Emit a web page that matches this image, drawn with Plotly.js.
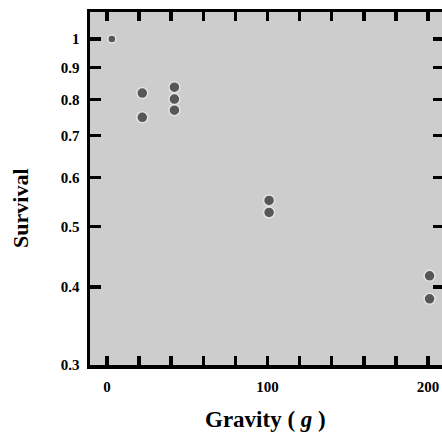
<!DOCTYPE html>
<html>
<head>
<meta charset="utf-8">
<script src="https://cdn.plot.ly/plotly-3.0.1.min.js"></script>
<style>
html,body{margin:0;padding:0;overflow:hidden;background:#fff;width:442px;height:435px;}
#chart{width:452px;height:435px;}
</style>
</head>
<body>
<div id="chart"></div>
<script>
// Data
var gravity  = [3, 22, 22, 42, 42, 42, 101, 101, 201, 201];
var survival = [1.0, 0.819, 0.749, 0.837, 0.801, 0.769, 0.551, 0.527, 0.417, 0.383];
var markerSizes = [8, 11, 11, 11, 11, 11, 11, 11, 11, 11];
var yTickVals = [0.3, 0.4, 0.5, 0.6, 0.7, 0.8, 0.9, 1];
var yTickText = ['0.3', '0.4', '0.5', '0.6', '0.7', '0.8', '0.9', '1'];
var xTickVals = [0, 20, 40, 60, 80, 100, 120, 140, 160, 180, 200];
var xTickText = ['0', '', '', '', '', '100', '', '', '', '', '200'];

var serif = 'Liberation Serif, Times New Roman, serif';

var trace = {
  x: gravity,
  y: survival,
  type: 'scatter',
  mode: 'markers',
  marker: {
    size: markerSizes,
    color: '#262626',
    line: {color: '#efefef', width: 1.5}
  },
  hoverinfo: 'skip'
};

var layout = {
  width: 452,
  height: 435,
  margin: {l: 90, r: 8, t: 12, b: 70},
  paper_bgcolor: '#ffffff',
  plot_bgcolor: '#cdcdcd',
  showlegend: false,
  font: {family: serif, color: '#000'},
  xaxis: {
    range: [-10.6, 210],
    showgrid: false,
    zeroline: false,
    showline: true,
    linecolor: '#000',
    linewidth: 3.5,
    mirror: 'ticks',
    ticks: 'inside',
    ticklen: 9,
    tickwidth: 3.5,
    tickcolor: '#000',
    tickmode: 'array',
    tickvals: xTickVals,
    ticktext: xTickText,
    ticklabelstandoff: 5,
    tickfont: {family: serif, size: 15, color: '#000', weight: 'bold'}
  },
  yaxis: {
    type: 'log',
    range: [Math.log10(0.3), Math.log10(1.105)],
    showgrid: false,
    zeroline: false,
    showline: true,
    linecolor: '#000',
    linewidth: 3.5,
    mirror: 'ticks',
    ticks: 'inside',
    ticklen: 11,
    tickwidth: 3.5,
    tickcolor: '#000',
    tickmode: 'array',
    tickvals: yTickVals,
    ticktext: yTickText,
    ticklabelstandoff: 4,
    tickfont: {family: serif, size: 15, color: '#000', weight: 'bold'}
  },
  annotations: [
    {
      text: 'Survival',
      xref: 'paper', yref: 'paper',
      x: -0.195, y: 0.445,
      xanchor: 'center', yanchor: 'middle',
      textangle: -90,
      showarrow: false,
      font: {family: serif, size: 22, color: '#000', weight: 'bold'}
    },
    {
      text: 'Gravity ( <i>g</i> )',
      xref: 'paper', yref: 'paper',
      x: 0.495, y: -0.153,
      xanchor: 'center', yanchor: 'middle',
      showarrow: false,
      font: {family: serif, size: 23, color: '#000', weight: 'bold'}
    }
  ]
};

Plotly.newPlot('chart', [trace], layout, {displayModeBar: false, staticPlot: true});
</script>
</body>
</html>
